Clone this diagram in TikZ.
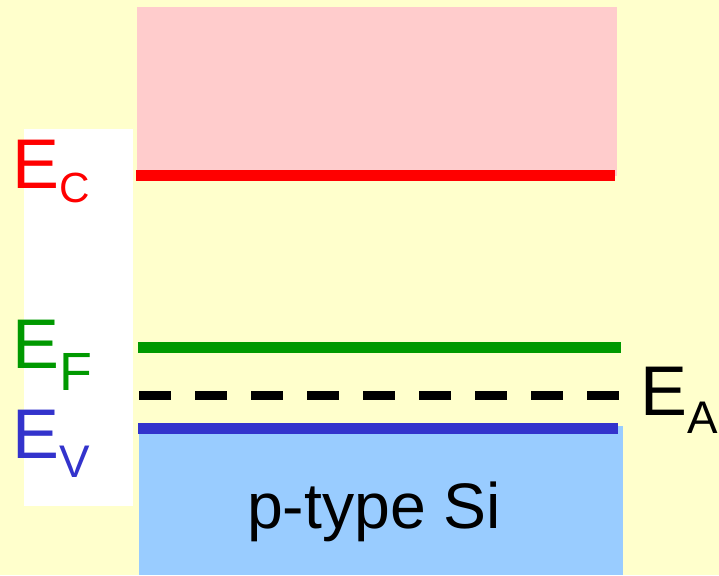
\documentclass[tikz,border=0pt]{standalone}
\usepackage{fontspec}
\setmainfont{Liberation Sans}
\usepackage{tikz}
\definecolor{bgYellow}{RGB}{255, 255, 204}
\definecolor{condPink}{RGB}{255, 204, 204}
\definecolor{valBlue}{RGB}{153, 204, 255}
\definecolor{levRed}{RGB}{255, 0, 0}
\definecolor{levGreen}{RGB}{0, 153, 0}
\definecolor{levBlue}{RGB}{51, 51, 204}
% E with a lowered subscript: #1 letter, #2 size, #3 drop
\newcommand{\elevel}[3]{\fontsize{20pt}{20pt}\selectfont E\raisebox{-#3}{\fontsize{#2}{#2}\selectfont #1}}

\begin{document}
\begin{tikzpicture}[x=0.01cm, y=-0.01cm,
    lvl/.style={anchor=base west, inner sep=0pt}]
        \useasboundingbox (0,0) rectangle (719,575);
        \fill[bgYellow] (0,0) rectangle (719,575);
        % label panel
        \fill[white] (24,129) rectangle (133,506);
        % conduction band and valence band
        \fill[condPink] (137,7) rectangle (617,176);
        \fill[valBlue] (139,426) rectangle (623,575);
        % band edges, Fermi level, acceptor level
        \draw[levRed, line width=0.11cm] (136,175.5) -- (615,175.5);
        \draw[levGreen, line width=0.11cm] (138,347.5) -- (621,347.5);
        \draw[black, line width=0.09cm, dash pattern=on 0.32cm off 0.24cm] (139,395.5) -- (619,395.5);
        \draw[levBlue, line width=0.11cm] (138,428.5) -- (618,428.5);
        % labels
        \node[lvl, levRed] (ec) at (11.5,188) {\elevel{C}{12pt}{0.145cm}};
        \node[lvl, levGreen] (ef) at (11.5,368) {\elevel{F}{15.3pt}{0.22cm}};
        \node[lvl, levBlue] (ev) at (11.5,458) {\elevel{V}{13pt}{0.19cm}};
        \node[lvl, black] (ea) at (639.5,415) {\elevel{A}{13pt}{0.18cm}};
        \node[anchor=base, inner sep=0pt, font=\fontsize{18.3pt}{18.3pt}\selectfont] (ptype) at (374,528) {p-type Si};
      \end{tikzpicture}
\end{document}
